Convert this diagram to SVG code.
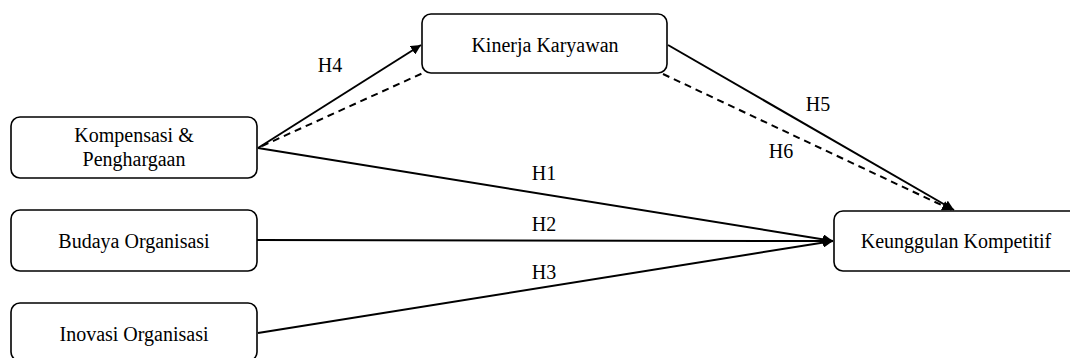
<svg xmlns="http://www.w3.org/2000/svg" width="1070" height="358" viewBox="0 0 1070 358">
<style>
.box{fill:#fff;stroke:#000;stroke-width:1.6}
.t{font-family:"Liberation Serif","Times New Roman",serif;font-size:20px;fill:#000;text-anchor:middle}
.c{fill:none;stroke:#000;stroke-width:2}
.d{stroke-dasharray:7 5}
</style>
<defs>
<marker id="ah" viewBox="0 0 10 10" refX="10" refY="5" markerWidth="5" markerHeight="5" orient="auto" markerUnits="strokeWidth">
<path d="M0,0 L10,5 L0,10 z" fill="#000"/>
</marker>
</defs>
<rect width="1070" height="358" fill="#fff"/>
<g id="connectors">
<line class="c" x1="258" y1="148" x2="421" y2="45" marker-end="url(#ah)"/>
<line class="c d" x1="262" y1="146" x2="423" y2="73"/>
<line class="c" x1="258" y1="148" x2="833" y2="241" marker-end="url(#ah)"/>
<line class="c" x1="257" y1="240" x2="833" y2="241" marker-end="url(#ah)"/>
<line class="c" x1="258" y1="333" x2="833" y2="241" marker-end="url(#ah)"/>
<line class="c" x1="668" y1="45" x2="954" y2="210" marker-end="url(#ah)"/>
<line class="c d" x1="663" y1="74" x2="952" y2="210" marker-end="url(#ah)"/>
<text class="t" x="330" y="72">H4</text>
<text class="t" x="544" y="180">H1</text>
<text class="t" x="544" y="231">H2</text>
<text class="t" x="544" y="279">H3</text>
<text class="t" x="818" y="111">H5</text>
<text class="t" x="781" y="158">H6</text>
</g>
<g id="kinerja">
<rect class="box" x="422" y="14" width="245" height="59" rx="9"/>
<text class="t" x="545" y="52">Kinerja Karyawan</text>
</g>
<g id="kompensasi">
<rect class="box" x="11" y="117" width="246" height="61" rx="9"/>
<text class="t" x="134" y="142">Kompensasi &amp;</text>
<text class="t" x="134" y="166">Penghargaan</text>
</g>
<g id="budaya">
<rect class="box" x="11" y="210" width="246" height="61" rx="9"/>
<text class="t" x="134" y="248">Budaya Organisasi</text>
</g>
<g id="inovasi">
<rect class="box" x="11" y="303" width="246" height="58" rx="9"/>
<text class="t" x="134" y="341">Inovasi Organisasi</text>
</g>
<g id="keunggulan">
<rect class="box" x="834" y="211" width="250" height="60" rx="9"/>
<text class="t" x="956" y="248">Keunggulan Kompetitif</text>
</g>
</svg>
